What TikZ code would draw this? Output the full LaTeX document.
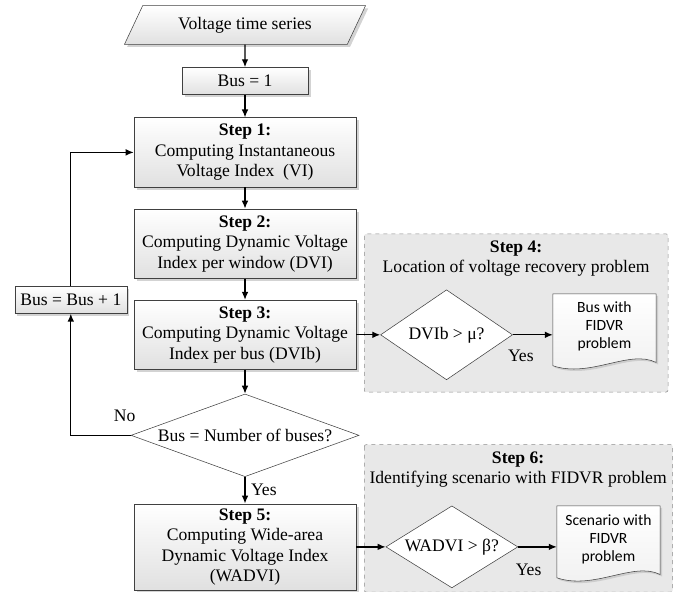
\documentclass[tikz,border=0pt]{standalone}
\usepackage{fontspec}
\setmainfont{Liberation Serif}
\newfontfamily\docfont{Carlito}
\usepackage{tikz}
\usetikzlibrary{positioning}
\usetikzlibrary{shapes.geometric}
\usetikzlibrary{calc, shadows}
\usetikzlibrary{arrows.meta, positioning}
\pgfdeclarelayer{back}
\pgfdeclarelayer{shape}
\pgfsetlayers{back,shape,main}
\newcommand{\docoutline}[1]{%
    \draw[docline] (#1.north west) -- (#1.north east) -- ($(#1.south east)+(0,-2pt)$)
        .. controls ($(#1.south east)+(-20pt,8pt)$) and ($(#1.south west)+(28pt,-14pt)$) .. ($(#1.south west)+(0,-4.5pt)$) -- cycle;}

\begin{document}
\begin{tikzpicture}[
            node distance=16pt and 16pt,
            font=\fontsize{13.2pt}{15.4pt}\selectfont,
            box/.style={
                rectangle,
                draw=black!75,
                top color=white,
                bottom color=black!12,
                drop shadow={shadow xshift=2pt, shadow yshift=-2pt, opacity=0.35},
                align=center,
                inner sep=2pt,
                minimum width=166.5pt,
                minimum height=52pt
            },
            smallbox/.style={box, minimum width=#1, minimum height=20.25pt},
            inputbox/.style={
                trapezium,
                trapezium left angle=63,
                trapezium right angle=117,
                trapezium stretches=true,
                draw=black!75,
                top color=white,
                bottom color=black!12,
                drop shadow={shadow xshift=2pt, shadow yshift=-2pt, opacity=0.35},
                minimum width=181pt,
                minimum height=29pt
            },
            decision/.style={diamond, draw=black!75, fill=white, inner sep=0pt, align=center},
            docbox/.style={
                rectangle,
                font=\docfont\fontsize{11.7pt}{13.5pt}\selectfont,
                align=center,
                inner sep=0pt,
                minimum width=77pt,
                minimum height=49pt
            },
            docline/.style={
                draw=black!75,
                top color=white,
                bottom color=black!6,
                drop shadow={shadow xshift=1.5pt, shadow yshift=-1.5pt, opacity=0.25}
            },
            grpbox/.style={draw=black!45, dashed, fill=black!9, rounded corners=1.5pt},
            title/.style={align=center, inner sep=0pt},
            arr/.style={-{Latex[length=6pt, width=5pt]}, line width=1pt},
            lbl/.style={inner sep=1pt}
        ]

            % Main column
            \node[inputbox] (series) {Voltage time series};
            \useasboundingbox ($(series.center)+(-183.75pt,18.75pt)$) rectangle ++(513.75pt,-444pt);
            \node[smallbox=94.5pt, below=17pt of series] (busone) {Bus = 1};
            \node[box, below=17pt of busone] (step1) {\textbf{Step 1:}\\Computing Instantaneous\\Voltage Index\ \ (VI)};
            \node[box, below=of step1] (step2) {\textbf{Step 2:}\\Computing Dynamic Voltage\\Index per window (DVI)};
            \node[box, below=of step2] (step3) {\textbf{Step 3:}\\Computing Dynamic Voltage\\Index per bus (DVIb)};
            \node[decision, shape aspect=2.75, minimum width=171pt, minimum height=62pt, below=18pt of step3] (lastbus) {Bus = Number of buses?};
            \node[box, minimum height=64.5pt, below=20pt of lastbus] (step5) {\textbf{Step 5:}\\Computing Wide-area\\Dynamic Voltage Index\\(WADVI)};
            \node[smallbox=84pt, left=5pt of step3.north west] (busnext) {Bus = Bus + 1};

            % Step 4
            \node[decision, shape aspect=1.47, minimum width=99pt, minimum height=67.5pt, right=18pt of step3] (dvib) {DVIb > μ?};
            \node[docbox, right=30pt of dvib, yshift=6pt] (buswith) {Bus with\\FIDVR\\problem};
            \node[title] (title4) at ($(step3.east)!0.5!(buswith.east |- step3.east)+(7.5pt,57pt)$) {\textbf{Step 4:}\\Location of voltage recovery problem};

            % Step 6
            \node[decision, shape aspect=1.6, minimum width=99pt, minimum height=61.5pt, right=22pt of step5] (wadvi) {WADVI > β?};
            \node[docbox, right=29pt of wadvi, yshift=6pt] (scenario) {Scenario with\\FIDVR\\problem};
            \node[title] (title6) at ($(step5.east)!0.5!(scenario.east |- step5.east)+(7.5pt,58pt)$) {\textbf{Step 6:}\\Identifying scenario with FIDVR problem};

            \begin{pgfonlayer}{back}
                \draw[grpbox] ($(step3.east |- title4.north)+(6pt,5pt)$) rectangle ($(buswith.east |- dvib.south)+(9pt,-9pt)$);
                \draw[grpbox] ($(step5.east |- title6.north)+(6pt,5pt)$) rectangle ($(scenario.east |- wadvi.south)+(9.5pt,-3pt)$);
            \end{pgfonlayer}
            \begin{pgfonlayer}{shape}
                \docoutline{buswith}
                \docoutline{scenario}
            \end{pgfonlayer}

            % Arrows
            \draw[arr] (series) -- (busone);
            \draw[arr] (busone) -- (step1);
            \draw[arr] (step1) -- (step2);
            \draw[arr] (step2) -- (step3);
            \draw[arr] (step3) -- (lastbus);
            \draw[arr] (lastbus) -- node[lbl, right=3pt] {Yes} (step5);
            \draw[arr] (lastbus.west) -- node[lbl, above=9pt, pos=0.1] {No} (lastbus.west -| busnext) -- (busnext);
            \draw[arr] (busnext) |- (step1);
            \draw[arr] (step3) -- (dvib);
            \draw[arr] (dvib.east) -- node[lbl, below=10pt, pos=0.2] {Yes} (dvib.east -| buswith.west);
            \draw[arr] (step5) -- (wadvi);
            \draw[arr] (wadvi.east) -- node[lbl, below=11pt, pos=0.27] {Yes} (wadvi.east -| scenario.west);
        \end{tikzpicture}
\end{document}
